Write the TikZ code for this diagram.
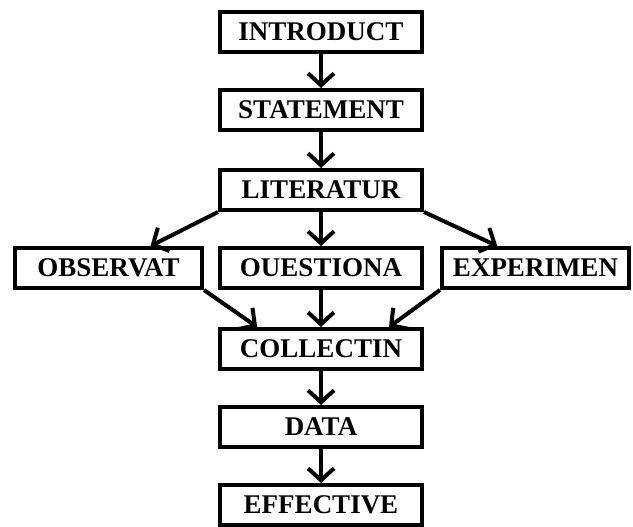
\documentclass[tikz,border=0pt]{standalone}
\usepackage{fontspec}
\setmainfont{Liberation Serif}
\usetikzlibrary{arrows.meta,calc}

\tikzset{
  stagebox/.style={draw, line width=4pt, minimum width=202pt, minimum height=40pt,
    inner sep=0pt, font=\fontsize{27}{29}\selectfont\bfseries},
  sidebox/.style={stagebox, minimum width=187pt},
  flow/.style={line width=4pt, -{Straight Barb[length=12pt, width=26pt, line width=4pt]}},
}

\begin{document}
\begin{tikzpicture}[x=1pt, y=-1pt]
	%%%%% START %%%%%
	\useasboundingbox (0,0) rectangle (633,527);
	
	\node[stagebox] (intro) at (321,32) {INTRODUCT};
	\node[stagebox] (stat) at (321,110) {STATEMENT};
	\node[stagebox] (lit) at (321,190) {LITERATUR};
	
	\node[sidebox] (obs) at (108.5,268) {OBSERVAT};
	\node[stagebox] (quest) at (321,268) {OUESTIONA};
	\node[sidebox] (expe) at (535.5,268) {EXPERIMEN};
	
	\node[stagebox] (coll) at (321,349) {COLLECTIN};
	\node[stagebox] (data) at (321,427) {DATA};
	\node[stagebox] (effe) at (321,505) {EFFECTIVE};
	
	\draw[flow] (intro) -- (stat);
	\draw[flow] (stat) -- (lit);
	\draw[flow] (lit) -- (quest);
	\draw[flow] (lit.south west) -- ($(obs.north west)!0.72!(obs.north east)$);
	\draw[flow] (lit.south east) -- ($(expe.north west)!0.3!(expe.north east)$);
	
	\draw[flow] (obs.south east) -- ($(coll.north west)!0.19!(coll.north east)$);
	\draw[flow] (quest) -- (coll);
	\draw[flow] (expe.south west) -- ($(coll.north west)!0.83!(coll.north east)$);
	
	\draw[flow] (coll) -- (data);
	\draw[flow] (data) -- (effe);
	%%%%% END %%%%%
\end{tikzpicture}
\end{document}
